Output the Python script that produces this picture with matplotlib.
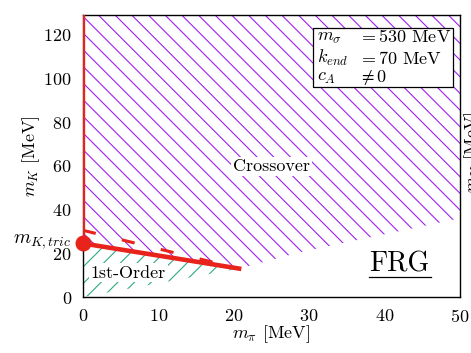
import matplotlib
matplotlib.use("Agg")
import matplotlib.pyplot as plt
from matplotlib.patches import Rectangle

plt.rcParams['font.family'] = 'serif'
plt.rcParams['font.serif'] = ['cmr10', 'DejaVu Serif']
plt.rcParams['mathtext.fontset'] = 'cm'
plt.rcParams['axes.formatter.use_mathtext'] = True
plt.rcParams['hatch.linewidth'] = 0.8

# ---- data ----
xticks = [0, 10, 20, 30, 40, 50]
yticks = [0, 20, 40, 60, 80, 100, 120]

# first-order boundary (solid red)
boundary_x = [0.0, 20.7]
boundary_y = [24.5, 13.0]
# second (dashed) estimate of the boundary
dashed_x = [0.0, 20.7]
dashed_y = [30.5, 13.0]
# vertical line at m_pi = 0
vline_y = [24.5, 135.0]
# tricritical point
tric_x = [0.0]
tric_y = [24.5]

# crossover region lower boundary
cross_x = [0.0, 20.7, 28.8, 50.0]
cross_low = [24.5, 13.0, 20.5, 36.0]
cross_high = [135.0, 135.0, 135.0, 135.0]

# first-order region
first_x = [0.0, 20.7]
first_low = [0.0, 13.0]
first_high = [24.5, 13.0]

purple = '#a020f0'
green = '#2fa985'
red = '#e8231b'

fig = plt.figure(figsize=(4.71, 3.53), dpi=100)
ax = fig.add_axes([83/471, 1-297/353, (460-83)/471, (297-15)/353])

ax.fill_between(cross_x, cross_low, cross_high, facecolor='none',
                edgecolor=purple, hatch='\\\\', linewidth=0)
ax.fill_between(first_x, first_low, first_high, facecolor='none',
                edgecolor=green, hatch='//', linewidth=0)

ax.plot(dashed_x, dashed_y, color=red, lw=2.2, linestyle=(0, (4.3, 8.8)),
        solid_capstyle='butt', zorder=4)
ax.plot(boundary_x, boundary_y, color=red, lw=3.3, zorder=5)
ax.plot([0, 0], vline_y, color=red, lw=2.4, zorder=5)
ax.plot(tric_x, tric_y, 'o', color=red, ms=10.5, clip_on=False, zorder=6)

ax.set_xlim(0, 50)
ax.set_ylim(0, 129)
ax.set_xticks(xticks)
ax.set_yticks(yticks)
ax.tick_params(length=0, pad=8, labelsize=13)
for s in ax.spines.values():
    s.set_linewidth(1.0)
    s.set_zorder(4)

ax.set_xlabel(r'$m_\pi$ [MeV]', fontsize=13, labelpad=-1)
ax.set_ylabel(r'$m_K$ [MeV]', fontsize=13, labelpad=1)

ax.annotate(r'$m_{K,tric}$', xy=(0, 25.5), xycoords='data',
            xytext=(-8.5, 0), textcoords='offset points',
            ha='right', va='center', fontsize=14, annotation_clip=False)

white_box = dict(boxstyle='square,pad=0.1', facecolor='white', edgecolor='none')
ax.text(25, 59.6, 'Crossover', ha='center', va='center', fontsize=13,
        bbox=white_box, zorder=7)
ax.text(6, 11, '1st-Order', ha='center', va='center', fontsize=13,
        bbox=white_box, zorder=7)
ax.text(41.9, 15, 'FRG', ha='center', va='center', fontsize=20, zorder=7)
ax.plot([37.9, 46.2], [9.2, 9.2], color='black', lw=0.9, zorder=7)

# parameter box
rx0, rx1 = (313-83)/377, (453-83)/377
ry0, ry1 = (297-87)/282, (297-28)/282
ax.add_patch(Rectangle((rx0, ry0), rx1-rx0, ry1-ry0, transform=ax.transAxes,
                       facecolor='white', edgecolor='black', lw=0.9, zorder=8))
c1 = (317-83)/377
c2 = (358-83)/377
rows = [(297-37)/282, (297-58)/282, (297-78)/282]
left_col = [r'$m_\sigma$', r'$k_{end}$', r'$c_A$']
right_col = [r'$=530$ MeV', r'$=70$ MeV', r'$\neq 0$']
for yy, l, r in zip(rows, left_col, right_col):
    ax.text(c1, yy, l, transform=ax.transAxes, ha='left', va='center',
            fontsize=13, zorder=9)
    ax.text(c2, yy, r, transform=ax.transAxes, ha='left', va='center',
            fontsize=13, zorder=9)

# neighbouring panel's label, cut at the figure edge
fig.text(462/471, 1-152/353, r'$m_K$ [MeV]', rotation=90, ha='left',
         va='center', fontsize=13)

fig.savefig('out.png', dpi=100)
